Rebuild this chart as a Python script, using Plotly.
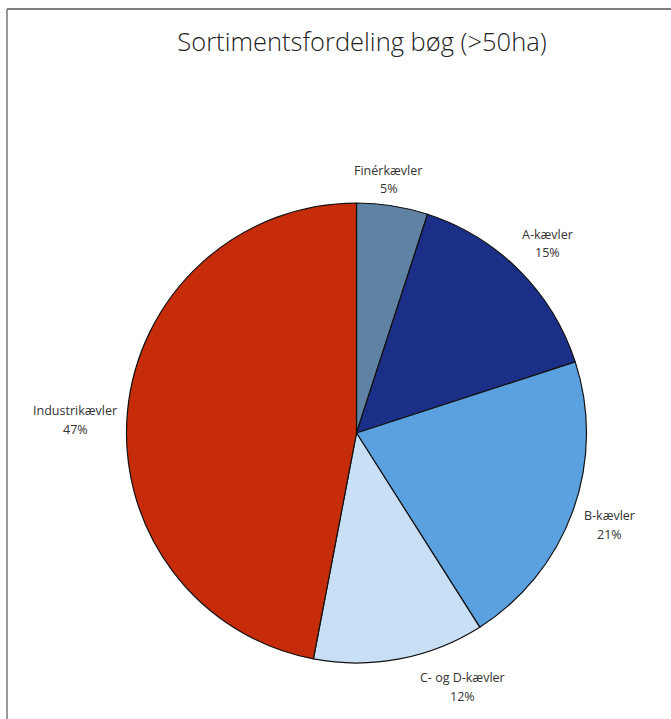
import plotly.graph_objects as go

# Assortment shares for beech stands over 50 ha
categories = ["Finérkævler", "A-kævler", "B-kævler", "C- og D-kævler", "Industrikævler"]
shares = [5, 15, 21, 12, 47]
colors = ["#5f82a5", "#1b2e88", "#5ba1e0", "#c8dff6", "#c62b0a"]

W, H = 671, 719
cx, cy, r = 356.5, 433.0, 230.0  # pie centre and radius in pixels

# centre of each two-line label (pixels from top-left), same order as categories
label_xy = [(388, 170), (547, 234), (609, 515), (462, 677), (75, 410)]
line_gap = 19

fig = go.Figure(
    go.Pie(
        labels=categories,
        values=shares,
        sort=False,
        direction="clockwise",
        rotation=0,
        marker=dict(colors=colors, line=dict(color="#111111", width=1.2)),
        textinfo="none",
        hoverinfo="label+value",
        showlegend=False,
        domain=dict(x=[(cx - r) / W, (cx + r) / W], y=[(H - cy - r) / H, (H - cy + r) / H]),
    )
)

label_font = dict(family="Open Sans", size=12.5, color="#333333")
annotations = []
for name, val, (lx, ly) in zip(categories, shares, label_xy):
    for text, yy in ((name, ly), (f"{val}%", ly + line_gap)):
        annotations.append(
            dict(
                text=text,
                xref="paper",
                yref="paper",
                x=lx / W,
                y=1 - yy / H,
                xanchor="center",
                yanchor="middle",
                showarrow=False,
                font=label_font,
            )
        )

fig.update_layout(
    width=W,
    height=H,
    margin=dict(l=0, r=0, t=0, b=0),
    paper_bgcolor="white",
    plot_bgcolor="white",
    title=dict(
        text="Sortimentsfordeling bøg (>50ha)",
        x=362 / W,
        xanchor="center",
        y=1 - 42 / H,
        yanchor="middle",
        font=dict(family="Open Sans", size=25.5, color="#222222", weight=300),
    ),
    annotations=annotations,
    shapes=[
        dict(type="line", xref="paper", yref="paper", x0=7 / W, x1=1, y0=1 - 9 / H, y1=1 - 9 / H,
             line=dict(color="#555555", width=1.5)),
        dict(type="line", xref="paper", yref="paper", x0=7 / W, x1=7 / W, y0=1 - 9 / H, y1=0,
             line=dict(color="#777777", width=1.5)),
    ],
)

fig.write_html("out.html")
